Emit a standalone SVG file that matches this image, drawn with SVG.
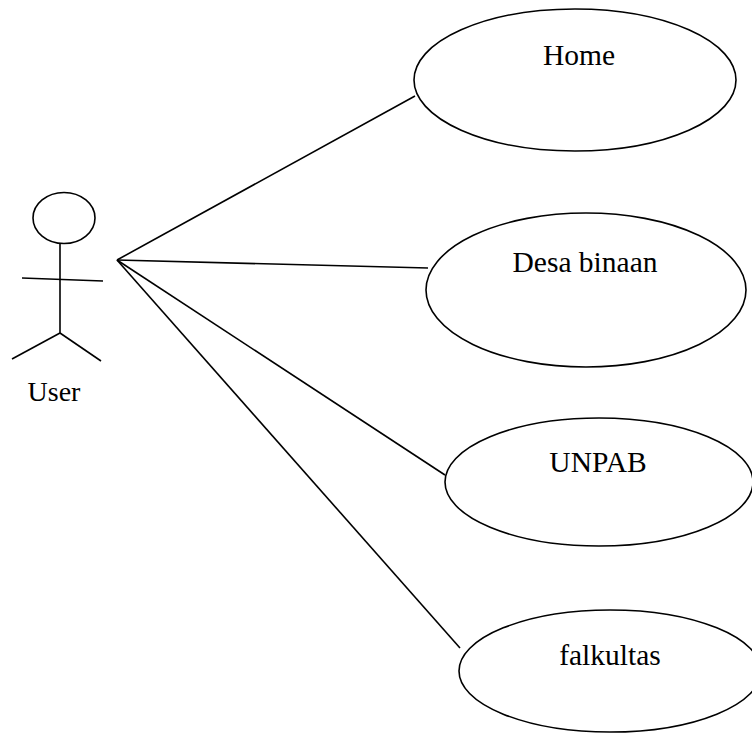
<svg xmlns="http://www.w3.org/2000/svg" width="752" height="733" viewBox="0 0 752 733">
<style>
.s{fill:none;stroke:#000;stroke-width:1.6}
.u{fill:#fff;stroke:#000;stroke-width:1.6}
.t{font-family:"Liberation Serif","Times New Roman",serif;font-size:29.5px;fill:#000;text-anchor:middle}
</style>
<rect width="752" height="733" fill="#fff"/>
<g id="connectors" class="s">
<line x1="117" y1="260" x2="415" y2="96"/>
<line x1="117" y1="260" x2="428" y2="268"/>
<line x1="117" y1="260" x2="445" y2="475"/>
<line x1="117" y1="260" x2="460" y2="648"/>
</g>
<g id="user">
<ellipse class="s" cx="64" cy="218" rx="31" ry="25.5"/>
<line class="s" x1="60" y1="244" x2="60" y2="333"/>
<line class="s" x1="22" y1="278" x2="103" y2="281"/>
<line class="s" x1="60" y1="333" x2="12" y2="359"/>
<line class="s" x1="60" y1="333" x2="101" y2="361"/>
<text class="t" x="54" y="401" style="font-size:28px">User</text>
</g>
<g id="home">
<ellipse class="u" cx="575" cy="80" rx="161" ry="71"/>
<text class="t" x="579" y="65">Home</text>
</g>
<g id="desa">
<ellipse class="u" cx="586" cy="290" rx="160" ry="77"/>
<text class="t" x="585" y="272">Desa binaan</text>
</g>
<g id="unpab">
<ellipse class="u" cx="599" cy="482" rx="154" ry="64"/>
<text class="t" x="598" y="472">UNPAB</text>
</g>
<g id="falkultas">
<ellipse class="u" cx="610" cy="671" rx="151" ry="61"/>
<text class="t" x="610" y="665">falkultas</text>
</g>
</svg>
